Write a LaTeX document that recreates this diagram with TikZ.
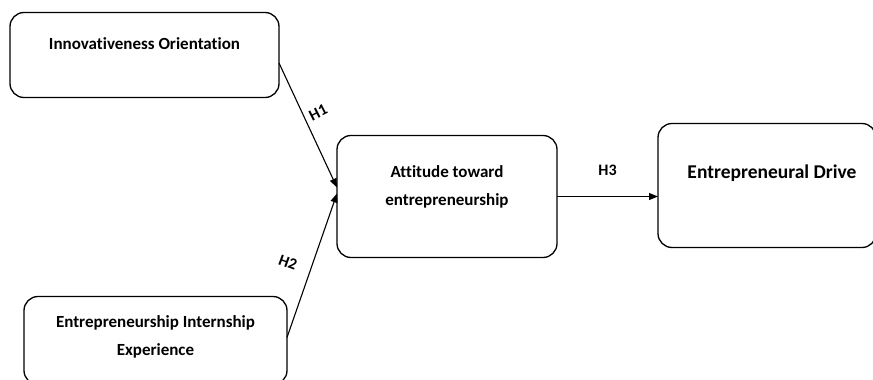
\documentclass[tikz,border=0pt]{standalone}
\usepackage{fontspec}
\setmainfont{Carlito}[Ligatures=NoCommon]
\usetikzlibrary{positioning, arrows.meta}

\tikzset{
	box/.style={draw, line width=1.3pt, rounded corners=14pt, outer sep=0pt, inner sep=0pt},
	txt/.style={font=\bfseries\fontsize{17}{28}\selectfont, align=center},
	hyp/.style={font=\bfseries\fontsize{16}{18}\selectfont, inner sep=0pt},
	link/.style={line width=1.1pt, -{Triangle[length=9pt,width=7pt]}}
}

\begin{document}
\begin{tikzpicture}[x=1pt,y=-1pt]
	\useasboundingbox (0,0) rectangle (873,380);
	\draw node (io)[box,minimum width=269pt,minimum height=85pt,
		label={[txt,yshift=11pt]center:Innovativeness Orientation}] at (144.5,55) {};
	\draw node (att)[box,minimum width=220pt,minimum height=122pt,below right=38pt and 58pt of io,
		label={[txt,yshift=10pt]center:Attitude toward\\entrepreneurship}] {};
	\draw node (eie)[box,minimum width=263pt,minimum height=88pt,below left=39pt and 50pt of att,
		label={[txt,yshift=4pt]center:Entrepreneurship Internship\\Experience}] {};
	\draw node (ed)[box,minimum width=218pt,minimum height=124pt,right=101pt of att,yshift=11pt,
		label={[txt,font=\bfseries\fontsize{19.5}{22}\selectfont,xshift=5pt,yshift=12pt]center:Entrepreneural Drive}] {};
	\draw[link] ([yshift=-8pt]io.east)--([yshift=9pt]att.west) node[hyp,pos=0.4,xshift=16pt,rotate=27] (h1) {H1};
	\draw[link] ([yshift=3pt]eie.east)--([yshift=3pt]att.west) node[hyp,pos=0.52,xshift=-25pt,rotate=-20] (h2) {H2};
	\draw[link] (att.east)--(att.east-|ed.west) node[hyp,midway,above=20pt] (h3) {H3};
\end{tikzpicture}
\end{document}
